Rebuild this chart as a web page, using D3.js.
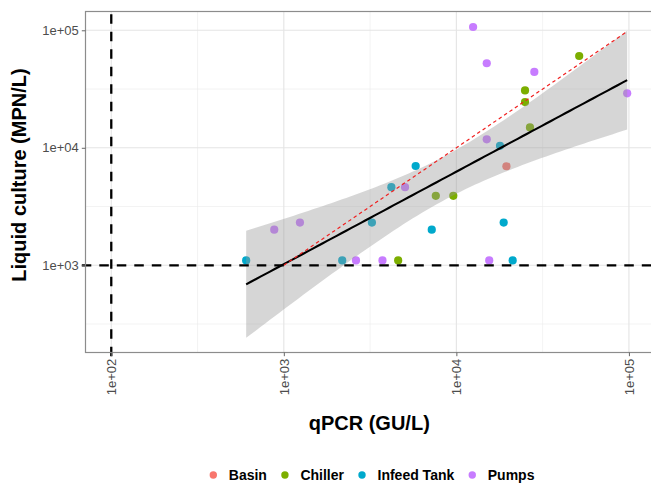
<!DOCTYPE html>
<html>
<head>
<meta charset="utf-8">
<script src="https://cdnjs.cloudflare.com/ajax/libs/d3/7.8.5/d3.min.js"></script>
<style>
body { margin: 0; background: #fff; }
text { font-family: "Liberation Sans", Arial, sans-serif; }
</style>
</head>
<body>
<div id="content"></div>
<script>
var sites = ["Basin", "Chiller", "Infeed Tank", "Pumps"];
var siteColors = ["#F8766D", "#7CAE00", "#00A9CC", "#C77CFF"];

// qPCR (GU/L) and liquid culture (MPN/L) per site
var basinQpcr = [19500];
var basinCulture = [6960];
var chillerQpcr = [4600, 7600, 9600, 51500, 25000, 25000, 26700];
var chillerCulture = [1100, 3900, 3900, 60400, 30800, 24500, 14900];
var tankQpcr = [605, 2180, 3240, 4200, 5810, 7200, 17900, 18800, 21200];
var tankCulture = [1100, 1100, 2310, 4620, 7000, 2010, 10400, 2310, 1100];
var pumpsQpcr = [880, 1240, 2620, 3730, 5040, 15000, 15500, 12500, 15000, 28300, 97700];
var pumpsCulture = [2010, 2310, 1100, 1100, 4620, 11800, 1100, 106600, 52400, 44200, 29100];

var lodQpcr = 100;
var lodCulture = 1000;
var xTicks = [1e2, 1e3, 1e4, 1e5];
var yTicks = [1e3, 1e4, 1e5];
var xLim = [70.9, 137900];
var yLim = [181, 144500];
var tCrit = 2.056; // t(0.975, df = 26)

var W = 651, H = 484;
var pL = 85.5, pR = 653, pT = 11.5, pB = 352.5;

var svg = d3.select("#content").append("svg")
	.attr("width", W)
	.attr("height", H);

var x = d3.scaleLog().domain(xLim).range([pL, pR]);
var y = d3.scaleLog().domain(yLim).range([pB, pT]);

var rows = [];
var siteQpcr = [basinQpcr, chillerQpcr, tankQpcr, pumpsQpcr];
var siteCulture = [basinCulture, chillerCulture, tankCulture, pumpsCulture];
for (var s = 0; s < sites.length; s++){
	for (var i = 0; i < siteQpcr[s].length; i++)
		rows.push({site: s, q: siteQpcr[s][i], c: siteCulture[s][i]});
}

function fmt(d){
	var e = Math.round(Math.log10(d));
	return "1e+" + (e < 10 ? "0" : "") + e;
}

/* grid */
function minors(ticks, lim){
	return ticks.map(function(t){ return t * Math.sqrt(10); })
		.concat([ticks[0] / Math.sqrt(10)])
		.filter(function(t){ return t > lim[0] && t < lim[1]; });
}

var grid = svg.append("g");
minors(xTicks, xLim).forEach(function(t){
	grid.append("line").attr("x1", x(t)).attr("x2", x(t)).attr("y1", pT).attr("y2", pB)
		.attr("stroke", "#ebebeb").attr("stroke-width", 0.6);
});
minors(yTicks, yLim).forEach(function(t){
	grid.append("line").attr("x1", pL).attr("x2", pR).attr("y1", y(t)).attr("y2", y(t))
		.attr("stroke", "#ebebeb").attr("stroke-width", 0.6);
});
xTicks.forEach(function(t){
	grid.append("line").attr("x1", x(t)).attr("x2", x(t)).attr("y1", pT).attr("y2", pB)
		.attr("stroke", "#e4e4e4").attr("stroke-width", 1.1);
});
yTicks.forEach(function(t){
	grid.append("line").attr("x1", pL).attr("x2", pR).attr("y1", y(t)).attr("y2", y(t))
		.attr("stroke", "#e4e4e4").attr("stroke-width", 1.1);
});

/* lm fit in log space */
var lx = rows.map(function(r){ return Math.log10(r.q); });
var ly = rows.map(function(r){ return Math.log10(r.c); });
var n = rows.length;
var mx = d3.mean(lx), my = d3.mean(ly);
var sxx = 0, sxy = 0, syy = 0;
for (var i = 0; i < n; i++){
	sxx += (lx[i]-mx)*(lx[i]-mx);
	sxy += (lx[i]-mx)*(ly[i]-my);
	syy += (ly[i]-my)*(ly[i]-my);
}
var slope = sxy/sxx;
var icpt = my - slope*mx;
var se = Math.sqrt((syy - slope*sxy)/(n-2));
var lxMin = d3.min(lx), lxMax = d3.max(lx);
var fit = d3.range(81).map(function(k){
	var v = lxMin + k*(lxMax-lxMin)/80;
	var f = icpt + slope*v;
	var h = tCrit*se*Math.sqrt(1/n + (v-mx)*(v-mx)/sxx);
	return {q: Math.pow(10, v), c: Math.pow(10, f), lo: Math.pow(10, f-h), hi: Math.pow(10, f+h)};
});

svg.append("clipPath").attr("id", "panel")
	.append("rect").attr("x", pL).attr("y", pT).attr("width", pR-pL).attr("height", pB-pT);

var plot = svg.append("g").attr("clip-path", "url(#panel)");

/* points */
plot.selectAll("circle").data(rows).enter().append("circle")
	.attr("cx", function(d){ return x(d.q); })
	.attr("cy", function(d){ return y(d.c); })
	.attr("r", 4.1)
	.attr("fill", function(d){ return siteColors[d.site]; });

/* confidence band + fit */
plot.append("path").datum(fit)
	.attr("d", d3.area()
		.x(function(d){ return x(d.q); })
		.y0(function(d){ return y(d.lo); })
		.y1(function(d){ return y(d.hi); }))
	.attr("fill", "#999999")
	.attr("fill-opacity", 0.4);

plot.append("path").datum(fit)
	.attr("d", d3.line()
		.x(function(d){ return x(d.q); })
		.y(function(d){ return y(d.c); }))
	.attr("fill", "none")
	.attr("stroke", "#000")
	.attr("stroke-width", 2.1);

// 1:1 line
var oneToOne = [lodCulture, Math.pow(10, lxMax)];
plot.append("line")
	.attr("x1", x(oneToOne[0])).attr("y1", y(oneToOne[0]))
	.attr("x2", x(oneToOne[1])).attr("y2", y(oneToOne[1]))
	.attr("stroke", "#f02020")
	.attr("stroke-width", 1.2)
	.attr("stroke-dasharray", "3.5,3");

/* detection limits */
svg.append("line")
	.attr("x1", pL-3.7).attr("x2", pR)
	.attr("y1", y(lodCulture)).attr("y2", y(lodCulture))
	.attr("stroke", "#000").attr("stroke-width", 2.3)
	.attr("stroke-dasharray", "9.5,8");
svg.append("line")
	.attr("x1", x(lodQpcr)).attr("x2", x(lodQpcr))
	.attr("y1", pB+3.7).attr("y2", pT)
	.attr("stroke", "#000").attr("stroke-width", 2.3)
	.attr("stroke-dasharray", "9.5,8");

/* border */
svg.append("rect")
	.attr("x", pL).attr("y", pT)
	.attr("width", pR-pL).attr("height", pB-pT)
	.attr("fill", "none")
	.attr("stroke", "#8c8c8c")
	.attr("stroke-width", 1.2);

/* axes */
var yAxis = svg.append("g")
	.attr("transform", "translate(" + pL + ",0)")
	.call(d3.axisLeft(y).tickValues(yTicks).tickFormat(fmt).tickSize(3.7).tickPadding(3));
yAxis.select(".domain").remove();
yAxis.selectAll("line").attr("stroke", "#666");
yAxis.selectAll("text")
	.attr("fill", "#4d4d4d")
	.style("font-size", "13px")
	.style("font-family", "Liberation Sans, Arial, sans-serif");

var xAxis = svg.append("g")
	.attr("transform", "translate(0," + pB + ")")
	.call(d3.axisBottom(x).tickValues(xTicks).tickFormat(fmt).tickSize(3.7));
xAxis.select(".domain").remove();
xAxis.selectAll("line").attr("stroke", "#666");
xAxis.selectAll("text")
	.attr("transform", "rotate(-90)")
	.attr("x", -6.2)
	.attr("y", 0)
	.attr("dy", "0.35em")
	.attr("text-anchor", "end")
	.attr("fill", "#4d4d4d")
	.style("font-size", "13px")
	.style("font-family", "Liberation Sans, Arial, sans-serif");

/* titles */
svg.append("text")
	.attr("x", (pL+pR)/2)
	.attr("y", 430)
	.attr("text-anchor", "middle")
	.style("font-size", "20px")
	.style("font-weight", "bold")
	.text("qPCR (GU/L)");

svg.append("text")
	.attr("transform", "translate(26,175) rotate(-90)")
	.attr("text-anchor", "middle")
	.style("font-size", "20px")
	.style("font-weight", "bold")
	.text("Liquid culture (MPN/L)");

/* legend */
var legend = svg.append("g");
var cx = 213.3;
for (var s = 0; s < sites.length; s++){
	legend.append("circle")
		.attr("cx", cx).attr("cy", 475)
		.attr("r", 3.7)
		.attr("fill", siteColors[s]);
	var t = legend.append("text")
		.attr("x", cx + 15.5)
		.attr("y", 480)
		.style("font-size", "14px")
		.style("font-weight", "bold")
		.text(sites[s]);
	cx += 15.5 + t.node().getComputedTextLength() + 18;
}
</script>
</body>
</html>
